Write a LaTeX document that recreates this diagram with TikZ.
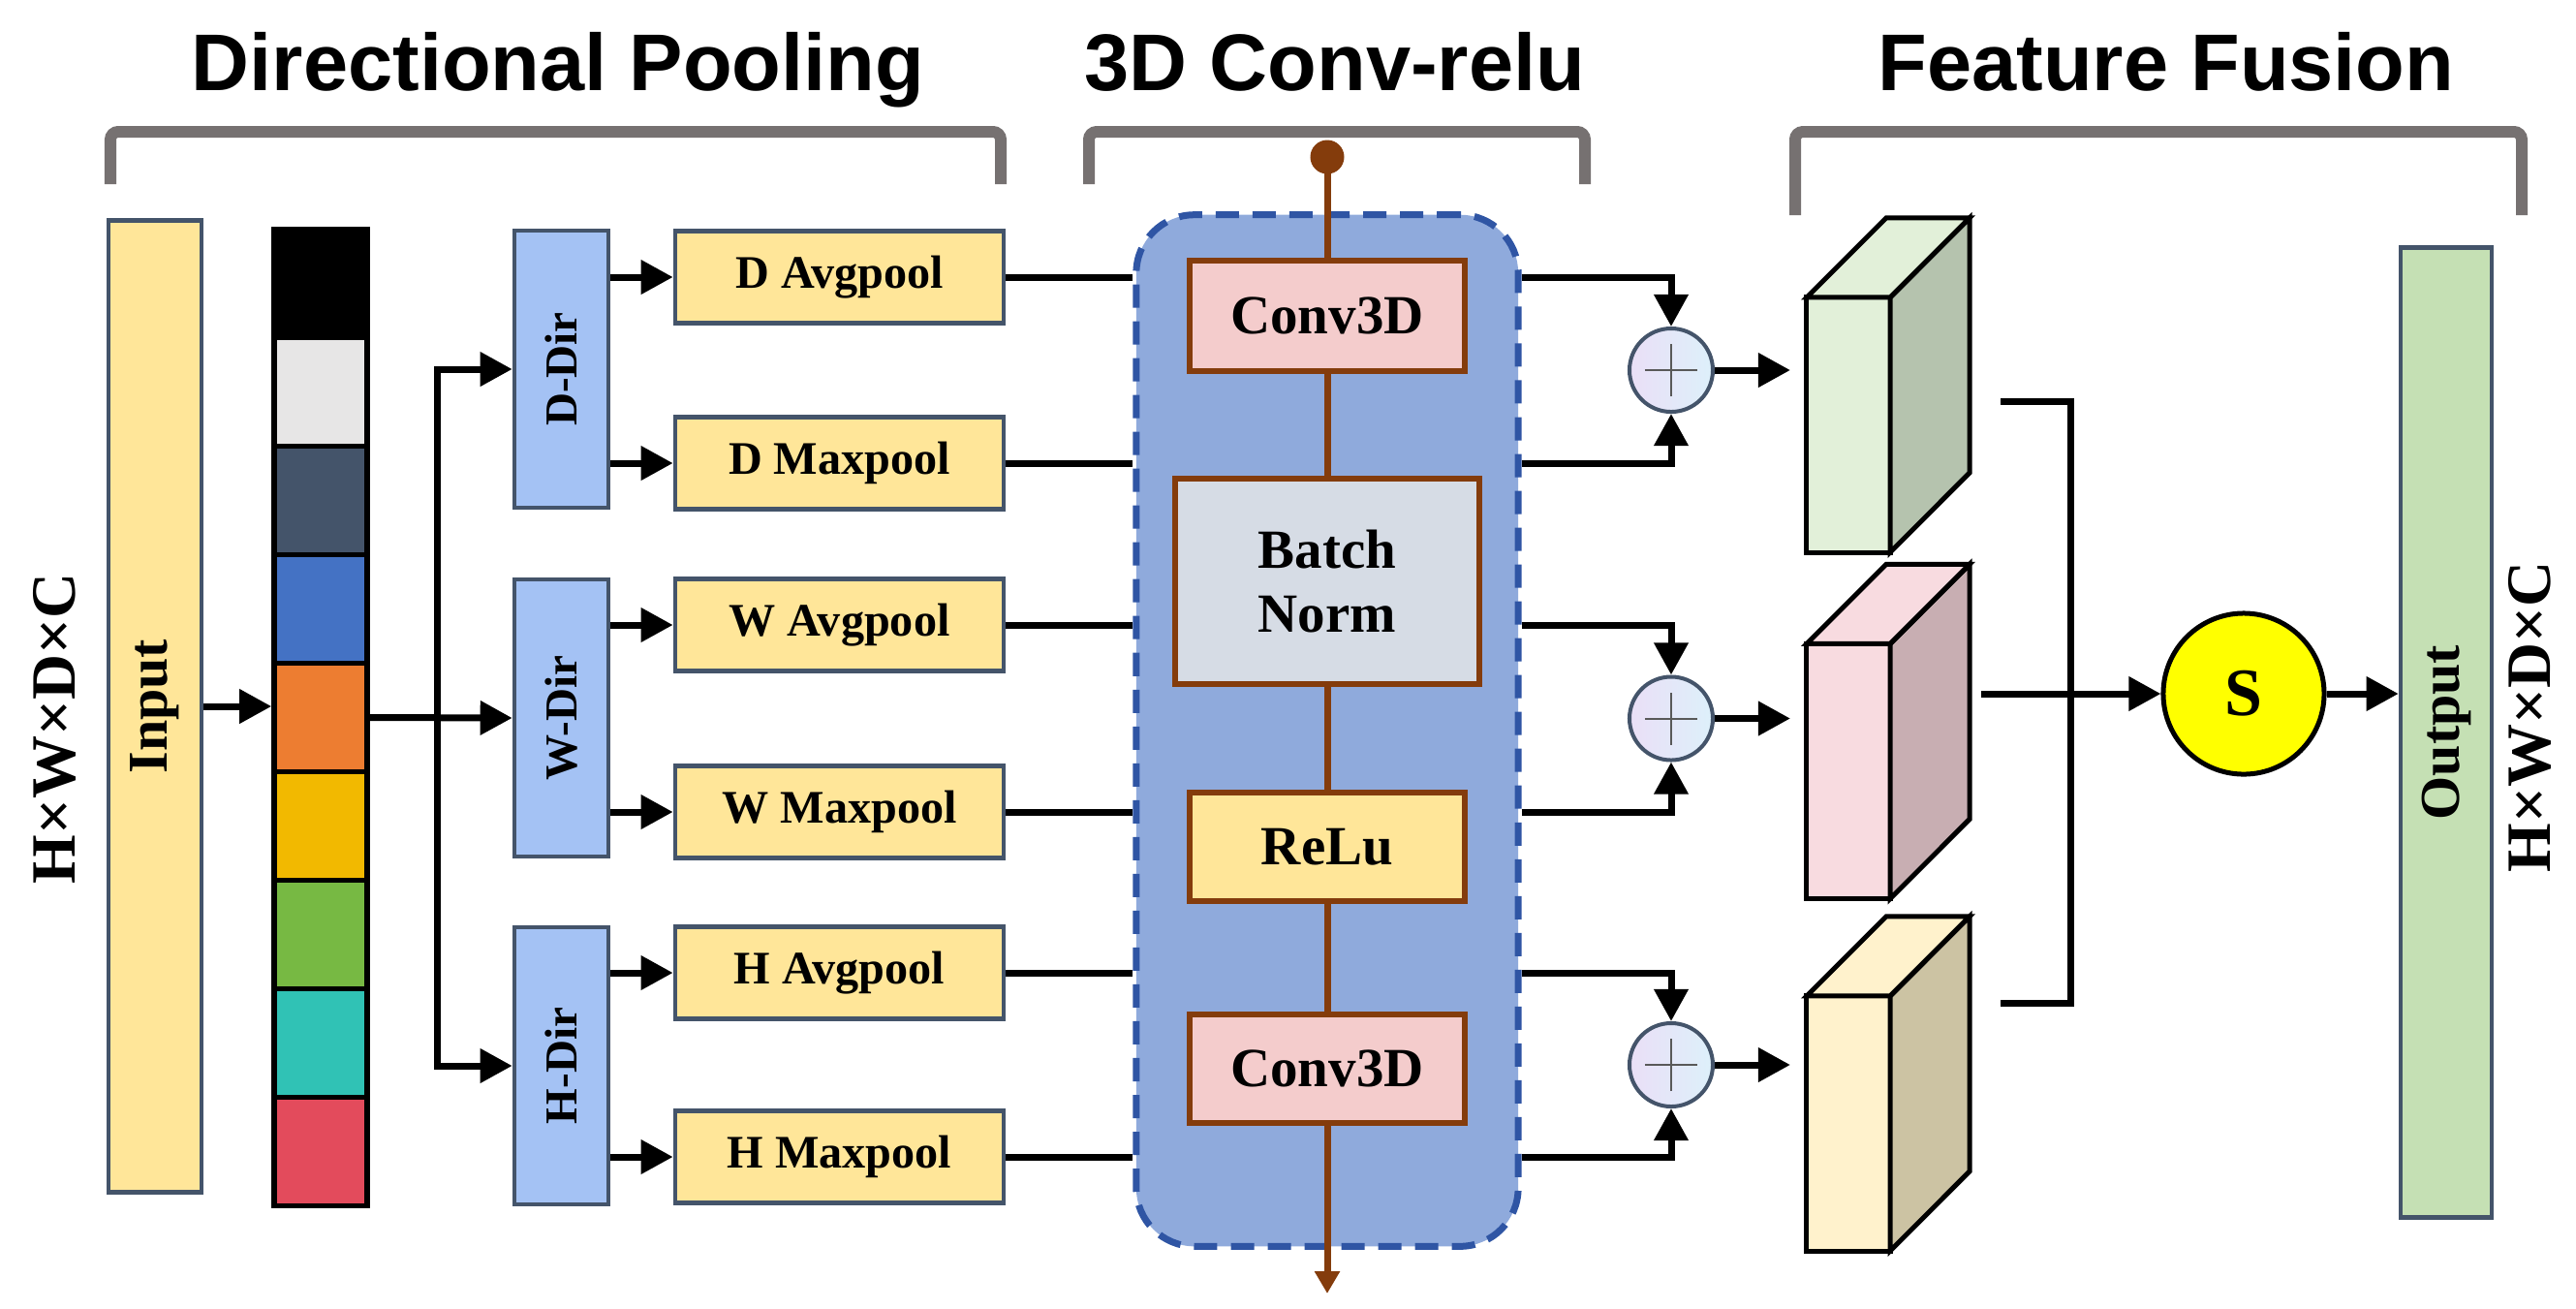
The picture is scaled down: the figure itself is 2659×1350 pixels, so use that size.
\documentclass[tikz,border=0pt]{standalone}
\usepackage{fontspec}
\setmainfont{Liberation Serif}
\newfontfamily\titlefont{Liberation Sans}
\usetikzlibrary{arrows.meta,calc}
\newcommand\myfs[1]{\fontsize{#1}{#1}\selectfont}
\definecolor{slate}{HTML}{44546A}
\definecolor{inyel}{HTML}{FFE699}
\definecolor{dirblue}{HTML}{A4C2F4}
\definecolor{convbg}{HTML}{8FAADC}
\definecolor{dashblue}{HTML}{2F55A4}
\definecolor{brownc}{HTML}{843C0C}
\definecolor{convpink}{HTML}{F4CCCC}
\definecolor{bngray}{HTML}{D6DCE5}
\definecolor{outgreen}{HTML}{C5E0B4}
\definecolor{brgray}{HTML}{767171}
\definecolor{plusA}{HTML}{EADFF7}
\definecolor{plusB}{HTML}{DDF0FA}
\definecolor{plusgray}{HTML}{595959}
\definecolor{cA}{HTML}{000000}
\definecolor{cB}{HTML}{E7E6E6}
\definecolor{cC}{HTML}{44546A}
\definecolor{cD}{HTML}{4472C4}
\definecolor{cE}{HTML}{ED7D31}
\definecolor{cF}{HTML}{F2B900}
\definecolor{cG}{HTML}{77B943}
\definecolor{cH}{HTML}{30C2B5}
\definecolor{cI}{HTML}{E34B5C}
\definecolor{gfront}{HTML}{E2F0D9}
\definecolor{gside}{HTML}{B5C3AE}
\definecolor{pfront}{HTML}{F8DBE0}
\definecolor{pside}{HTML}{C8AEB2}
\definecolor{yfront}{HTML}{FFF2CC}
\definecolor{yside}{HTML}{CCC3A3}
\definecolor{sylw}{HTML}{FFFF00}
\begin{document}
\begin{tikzpicture}[x=0.01cm,y=-0.01cm,
  title/.style={font={\titlefont\bfseries\myfs{23.6}}, anchor=base, inner sep=0},
  bracket/.style={draw=brgray, line width=0.12cm, rounded corners=0.08cm},
  box/.style={draw=slate, line width=0.045cm, inner sep=0, anchor=center},
  inbox/.style={box, fill=inyel, minimum width=0.96cm, minimum height=10.02cm},
  dirbox/.style={box, fill=dirblue, minimum width=0.97cm, minimum height=2.86cm},
  poolbox/.style={box, fill=inyel, minimum width=3.39cm, minimum height=0.95cm, font={\bfseries\myfs{13.7}}},
  convbox/.style={draw=brownc, line width=0.06cm, inner sep=0, minimum width=2.84cm, minimum height=1.13cm, font={\bfseries\myfs{16.2}}},
  rotlab/.style={rotate=90, font={\bfseries\myfs{#1}}},
  conn/.style={line width=0.07cm, black},
  arr/.style={conn, -{Triangle[length=0.33cm,width=0.34cm]}},
  brline/.style={draw=brownc, line width=0.07cm, -{Triangle[length=0.23cm,width=0.25cm]}},
  plus/.style={circle, draw=slate, line width=0.04cm, minimum size=0.86cm, inner sep=0,
    left color=plusA, right color=plusB,
    path picture={\draw[plusgray, line width=0.02cm]
      ([xshift=-0.27cm]path picture bounding box.center) -- ([xshift=0.27cm]path picture bounding box.center)
      ([yshift=-0.27cm]path picture bounding box.center) -- ([yshift=0.27cm]path picture bounding box.center);}},
  cubline/.style={draw=black, line width=0.05cm, line join=miter},
  front/.style={cubline, minimum width=0.86cm, minimum height=2.63cm, inner sep=0, outer sep=0}
]
\useasboundingbox (0,0) rectangle (2659,1350);

% titles and brackets
\node[title] (t1) at (576,93) {Directional Pooling};
\node[title] (t2) at (1378,93) {3D Conv-relu};
\node[title] (t3) at (2236,93) {Feature Fusion};
\draw[bracket] (114,190) -- (114,136) -- (1033,136) -- (1033,190);
\draw[bracket] (1124,190) -- (1124,136) -- (1636,136) -- (1636,190);
\draw[bracket] (1853,222) -- (1853,136) -- (2603,136) -- (2603,222);

% left label and input
\node[rotlab=18.5] (lbl) at (56,752) {H×W×D×C};
\node[inbox, label={[rotlab=16.5]center:Input}] (inp) at (160,729) {};

% colour bar
\foreach \c [count=\i from 0] in {cA,cB,cC,cD,cE,cF,cG,cH,cI}
  \fill[\c] (283,{237+\i*111.9}) rectangle (379,{237+(\i+1)*111.9});
\foreach \i in {1,...,8}
  \draw[line width=0.05cm] (283,{237+\i*111.9}) -- (379,{237+\i*111.9});
\node[draw=black, line width=0.055cm, minimum width=0.96cm, minimum height=10.07cm, inner sep=0] (bar) at (331,740.5) {};
\draw[arr] (inp.east) -- (inp.east -| bar.west);

% direction boxes
\node[dirbox, label={[rotlab=13.4]center:D-Dir}] (ddir) at (579.5,381) {};
\node[dirbox, label={[rotlab=13.4]center:W-Dir}] (wdir) at (579.5,741) {};
\node[dirbox, label={[rotlab=13.4]center:H-Dir}] (hdir) at (579.5,1100) {};
\coordinate (trk) at (451,741);
\draw[arr] (bar.east) -- (wdir.west);
\draw[arr] (trk) -- (trk |- ddir.west) -- (ddir.west);
\draw[arr] (trk) -- (trk |- hdir.west) -- (hdir.west);

% pooling boxes
\node[poolbox] (davg) at (866.5,286) {D Avgpool};
\node[poolbox] (dmax) at (866.5,478) {D Maxpool};
\node[poolbox] (wavg) at (866.5,645) {W Avgpool};
\node[poolbox] (wmax) at (866.5,838) {W Maxpool};
\node[poolbox] (havg) at (866.5,1004) {H Avgpool};
\node[poolbox] (hmax) at (866.5,1194) {H Maxpool};
\draw[arr] (davg.west -| ddir.east) -- (davg.west);
\draw[arr] (dmax.west -| ddir.east) -- (dmax.west);
\draw[arr] (wavg.west -| wdir.east) -- (wavg.west);
\draw[arr] (wmax.west -| wdir.east) -- (wmax.west);
\draw[arr] (havg.west -| hdir.east) -- (havg.west);
\draw[arr] (hmax.west -| hdir.east) -- (hmax.west);

% conv block
\node[draw=dashblue, fill=convbg, line width=0.07cm, dash pattern=on 0.24cm off 0.14cm,
  rounded corners=0.6cm, minimum width=3.94cm, minimum height=10.64cm, inner sep=0] (cbox) at (1370,754) {};
\foreach \p in {davg,dmax,wavg,wmax,havg,hmax}
  \draw[conn] (\p.east) -- (\p.east -| cbox.west);
\node[circle, fill=brownc, minimum size=0.35cm, inner sep=0] (dot) at (1370,162) {};
\coordinate (bend) at (1370,1335);
\draw[brline] (dot.center) -- (bend);
\node[convbox, fill=convpink] (conv1) at (1370,326) {Conv3D};
\node[convbox, fill=bngray, minimum width=3.13cm, minimum height=2.12cm, align=center] (bn) at (1370,600) {Batch\\[0.1cm]Norm};
\node[convbox, fill=inyel, minimum height=1.11cm] (relu) at (1370,874) {ReLu};
\node[convbox, fill=convpink, minimum height=1.12cm] (conv2) at (1370,1103) {Conv3D};

% adders
\node[plus] (p1) at (1725,382) {};
\node[plus] (p2) at (1725,741.5) {};
\node[plus] (p3) at (1725,1099) {};
\draw[arr] (davg.east -| cbox.east) -- (davg.east -| p1) -- (p1.north);
\draw[arr] (dmax.east -| cbox.east) -- (dmax.east -| p1) -- (p1.south);
\draw[arr] (wavg.east -| cbox.east) -- (wavg.east -| p2) -- (p2.north);
\draw[arr] (wmax.east -| cbox.east) -- (wmax.east -| p2) -- (p2.south);
\draw[arr] (havg.east -| cbox.east) -- (havg.east -| p3) -- (p3.north);
\draw[arr] (hmax.east -| cbox.east) -- (hmax.east -| p3) -- (p3.south);

% cuboids
\node[front, fill=gfront] (cub1) at (1908,438.5) {};
\draw[cubline, fill=gside] (cub1.north east) -- ++(82,-82) -- ++(0,263) -- (cub1.south east) -- cycle;
\draw[cubline, fill=gfront] (cub1.north west) -- ++(82,-82) -- ++(86,0) -- (cub1.north east) -- cycle;
\node[front, fill=pfront] (cub2) at (1908,796) {};
\draw[cubline, fill=pside] (cub2.north east) -- ++(82,-82) -- ++(0,263) -- (cub2.south east) -- cycle;
\draw[cubline, fill=pfront] (cub2.north west) -- ++(82,-82) -- ++(86,0) -- (cub2.north east) -- cycle;
\node[front, fill=yfront] (cub3) at (1908,1159.5) {};
\draw[cubline, fill=yside] (cub3.north east) -- ++(82,-82) -- ++(0,263) -- (cub3.south east) -- cycle;
\draw[cubline, fill=yfront] (cub3.north west) -- ++(82,-82) -- ++(86,0) -- (cub3.north east) -- cycle;
\draw[arr, shorten >=0.17cm] (p1.east) -- (p1.east -| cub1.west);
\draw[arr, shorten >=0.17cm] (p2.east) -- (p2.east -| cub2.west);
\draw[arr, shorten >=0.17cm] (p3.east) -- (p3.east -| cub3.west);

% fusion
\node[circle, draw=black, line width=0.05cm, fill=sylw, minimum size=1.66cm, inner sep=0, font={\bfseries\myfs{19.9}}] (sc) at (2316,716) {S};
\node[box, fill=outgreen, minimum width=0.94cm, minimum height=10cm, label={[rotlab=16.5]center:Output}] (out) at (2525,756) {};
\coordinate (mt) at (2065,414);
\coordinate (mb) at (2065,1035);
\coordinate (mj) at (2137,716);
\coordinate (mm) at (2045,716);
\draw[conn] (mt) -- (mt -| mj) -- (mb -| mj) -- (mb);
\draw[arr] (mm) -- (sc.west);
\draw[arr] (sc.east) -- (sc.east -| out.west);
\node[rotlab=18.5] (rlbl) at (2611,740) {H×W×D×C};
\end{tikzpicture}
\end{document}
